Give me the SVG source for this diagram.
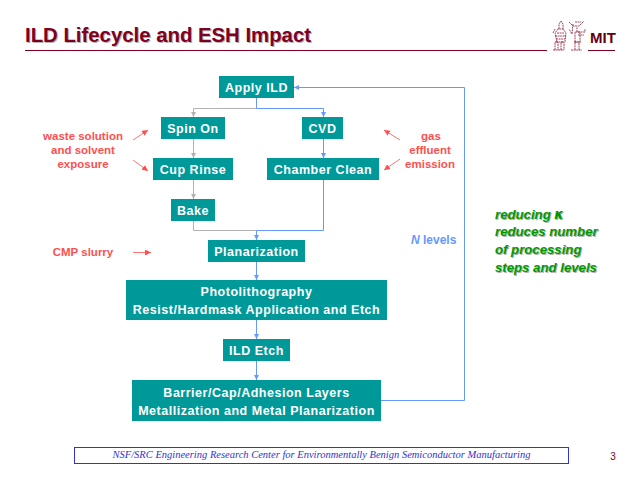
<svg xmlns="http://www.w3.org/2000/svg" width="640" height="480" viewBox="0 0 640 480">
<style>
text{font-family:"Liberation Sans",Arial,sans-serif}
.n rect{fill:#009999}
.n text{fill:#fff;font-size:12.5px;font-weight:bold;text-anchor:middle;letter-spacing:.52px}
.g{fill:none;stroke:#b2b2b2;stroke-width:1}
.b{fill:none;stroke:#6699ff;stroke-width:1}
.r{fill:#ff5050;font-size:11.5px;font-weight:bold;text-anchor:middle}
.ra{stroke:#ff5050;stroke-width:.8;fill:none;marker-end:url(#ar)}
.gr{font-size:13.2px;font-weight:bold;font-style:italic}
.ft{font-family:"Liberation Serif",serif;font-size:10.5px;font-style:italic;fill:#3333cc;text-anchor:middle}
.kp{font-family:"DejaVu Sans",sans-serif}
</style>
<defs>
<marker id="ag" markerUnits="userSpaceOnUse" markerWidth="6" markerHeight="6" refX="5" refY="3" orient="auto"><path d="M0 .5L5 3L0 5.500Z" fill="#b2b2b2"/></marker>
<marker id="ab" markerUnits="userSpaceOnUse" markerWidth="6" markerHeight="6" refX="5" refY="3" orient="auto"><path d="M0 .5L5 3L0 5.500Z" fill="#6699ff"/></marker>
<marker id="ar" markerUnits="userSpaceOnUse" markerWidth="8" markerHeight="7" refX="6" refY="3" orient="auto"><path d="M0 0L6 3L0 6Z" fill="#ff5050"/></marker>
</defs>
<g id="title">
<text x="26" y="43" font-size="20.35" font-weight="bold" fill="#b2b2b2">ILD Lifecycle and ESH Impact</text>
<text x="25" y="42" font-size="20.35" font-weight="bold" fill="#800020">ILD Lifecycle and ESH Impact</text>
<path d="M25 50.500H547M588 50.500H615" stroke="#800020" stroke-width="1"/>
</g>
<g id="logo" fill="none" stroke="#8a1a30" stroke-width=".8">
<path d="M553 50H564M555 50V42H558V50M561 50V42H564V50M556 42H564M557 42L555 33L558 29H563L566 33L565 42M555 36H566M557 33H564M559 29V24L561 21L563 24V29M556 39H565M553 33L555 29" stroke-dasharray="2 .6"/>
<path d="M571 50H582M575 50V42H579V50M574 42H581M575 42V32H580V42M578 32H585V29M578 35H584M577 32V27M569 22L573 26H579L584 21M573 24L572 34L569 29M575 22H581" stroke-dasharray="2 .6"/>
</g>
<text id="mit" x="590" y="43" font-size="15" font-weight="bold" fill="#660011">MIT</text>
<g id="connectors">
<path class="g" d="M256.500 98V108.500H193.500V117" marker-end="url(#ag)"/>
<path class="g" d="M193.500 139V158" marker-end="url(#ag)"/>
<path class="g" d="M193.500 180V199" marker-end="url(#ag)"/>
<path class="g" d="M193.500 221V230.500H256.500"/>
<path class="b" d="M256.500 98V108.500H323.500V117" marker-end="url(#ab)"/>
<path class="b" d="M323.500 139V158" marker-end="url(#ab)"/>
<path class="b" d="M323.500 180V230.500H256.500"/>
<path class="b" d="M256.500 230.500V240" marker-end="url(#ab)"/>
<path class="b" d="M256.500 262V280" marker-end="url(#ab)"/>
<path class="b" d="M256.500 320V339" marker-end="url(#ab)"/>
<path class="b" d="M256.500 361V380" marker-end="url(#ab)"/>
<path class="b" d="M381 400.500H464.500V87.500H294" marker-end="url(#ab)"/>
<path class="ra" d="M133 140L148 130"/>
<path class="ra" d="M133 160L148 171"/>
<path class="ra" d="M400 140L384 130"/>
<path class="ra" d="M400 159L384 170"/>
<path class="ra" d="M133 252.500H151"/>
</g>
<g id="apply" class="n"><rect x="219" y="76" width="75" height="22"/><text x="256.500" y="92">Apply ILD</text></g>
<g id="spin" class="n"><rect x="161" y="117" width="64" height="22"/><text x="193" y="133">Spin On</text></g>
<g id="cvd" class="n"><rect x="302" y="117" width="41" height="22"/><text x="322.500" y="133">CVD</text></g>
<g id="cup" class="n"><rect x="153" y="158" width="80" height="22"/><text x="193" y="174">Cup Rinse</text></g>
<g id="chamber" class="n"><rect x="267" y="158" width="112" height="22"/><text x="323" y="174">Chamber Clean</text></g>
<g id="bake" class="n"><rect x="171" y="199" width="44" height="22"/><text x="193" y="215">Bake</text></g>
<g id="planarization" class="n"><rect x="208" y="240" width="97" height="22"/><text x="256.500" y="256">Planarization</text></g>
<g id="photo" class="n"><rect x="126" y="280" width="261" height="40"/><text x="256.500" y="296">Photolithography</text><text x="256.500" y="314">Resist/Hardmask Application and Etch</text></g>
<g id="etch" class="n"><rect x="223" y="339" width="67" height="22"/><text x="256.500" y="355">ILD Etch</text></g>
<g id="barrier" class="n"><rect x="132" y="380" width="249" height="41"/><text x="256.500" y="397">Barrier/Cap/Adhesion Layers</text><text x="256.500" y="415">Metallization and Metal Planarization</text></g>
<g id="notes">
<text class="r" x="83" y="140">waste solution</text>
<text class="r" x="83" y="154">and solvent</text>
<text class="r" x="83" y="168">exposure</text>
<text class="r" x="431" y="140">gas</text>
<text class="r" x="430" y="154">effluent</text>
<text class="r" x="430" y="168">emission</text>
<text class="r" x="83" y="256">CMP slurry</text>
<text x="411" y="244" font-size="12" font-weight="bold" fill="#6699ff"><tspan font-style="italic">N</tspan> levels</text>
</g>
<g id="benefit">
<g fill="#b2b2b2" transform="translate(1 1)" class="gr"><text x="495" y="219">reducing <tspan class="kp">κ</tspan></text><text x="495" y="236">reduces number</text><text x="495" y="254">of processing</text><text x="495" y="272">steps and levels</text></g>
<g fill="#009900" class="gr"><text x="495" y="219">reducing <tspan class="kp">κ</tspan></text><text x="495" y="236">reduces number</text><text x="495" y="254">of processing</text><text x="495" y="272">steps and levels</text></g>
</g>
<g id="footer">
<rect x="74.500" y="447.500" width="494" height="16" fill="#fff" stroke="#3333cc"/>
<text class="ft" x="321.500" y="458">NSF/SRC Engineering Research Center for Environmentally Benign Semiconductor Manufacturing</text>
<text x="613" y="460" font-size="10" fill="#800020" text-anchor="middle">3</text>
</g>
</svg>
